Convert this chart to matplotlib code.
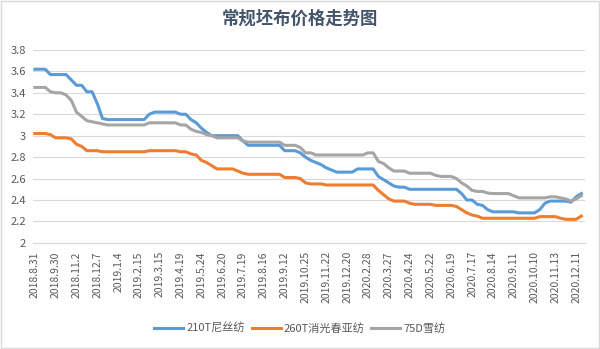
import matplotlib
matplotlib.use("Agg")
import matplotlib.pyplot as plt
from matplotlib.patches import Rectangle

plt.rcParams['font.family'] = ['Noto Sans CJK SC', 'DejaVu Sans']

# weekly price series (yuan/m), 106 weeks from 2018.8.31
nylon_210t = [3.62, 3.62, 3.62, 3.57, 3.57, 3.57, 3.57, 3.52, 3.47, 3.47,
              3.41, 3.41, 3.30, 3.16, 3.15, 3.15, 3.15, 3.15, 3.15, 3.15,
              3.15, 3.15, 3.20, 3.22, 3.22, 3.22, 3.22, 3.22, 3.20, 3.20,
              3.15, 3.12, 3.07, 3.03, 3.00, 3.00, 3.00, 3.00, 3.00, 3.00,
              2.95, 2.91, 2.91, 2.91, 2.91, 2.91, 2.91, 2.91, 2.86, 2.86,
              2.86, 2.84, 2.80, 2.77, 2.75, 2.73, 2.70, 2.68, 2.66, 2.66,
              2.66, 2.66, 2.69, 2.69, 2.69, 2.69, 2.62, 2.59, 2.56, 2.53,
              2.52, 2.52, 2.50, 2.50, 2.50, 2.50, 2.50, 2.50, 2.50, 2.50,
              2.50, 2.50, 2.46, 2.40, 2.40, 2.36, 2.35, 2.31, 2.29, 2.29,
              2.29, 2.29, 2.29, 2.28, 2.28, 2.28, 2.28, 2.31, 2.37, 2.39,
              2.39, 2.39, 2.39, 2.38, 2.43, 2.46]
pongee_260t = [3.02, 3.02, 3.02, 3.01, 2.98, 2.98, 2.98, 2.97, 2.92, 2.90,
               2.86, 2.86, 2.86, 2.85, 2.85, 2.85, 2.85, 2.85, 2.85, 2.85,
               2.85, 2.85, 2.86, 2.86, 2.86, 2.86, 2.86, 2.86, 2.85, 2.85,
               2.83, 2.82, 2.77, 2.75, 2.72, 2.69, 2.69, 2.69, 2.69, 2.67,
               2.65, 2.64, 2.64, 2.64, 2.64, 2.64, 2.64, 2.64, 2.61, 2.61,
               2.61, 2.60, 2.56, 2.55, 2.55, 2.55, 2.54, 2.54, 2.54, 2.54,
               2.54, 2.54, 2.54, 2.54, 2.54, 2.54, 2.49, 2.45, 2.41, 2.39,
               2.39, 2.39, 2.37, 2.36, 2.36, 2.36, 2.36, 2.35, 2.35, 2.35,
               2.35, 2.34, 2.31, 2.28, 2.26, 2.25, 2.23, 2.23, 2.23, 2.23,
               2.23, 2.23, 2.23, 2.23, 2.23, 2.23, 2.23, 2.245, 2.245, 2.245,
               2.245, 2.23, 2.22, 2.22, 2.22, 2.25]
chiffon_75d = [3.45, 3.45, 3.45, 3.41, 3.40, 3.40, 3.38, 3.33, 3.22, 3.18,
               3.14, 3.13, 3.12, 3.11, 3.10, 3.10, 3.10, 3.10, 3.10, 3.10,
               3.10, 3.10, 3.12, 3.12, 3.12, 3.12, 3.12, 3.12, 3.10, 3.10,
               3.06, 3.04, 3.03, 3.01, 3.00, 2.98, 2.98, 2.98, 2.98, 2.98,
               2.95, 2.94, 2.94, 2.94, 2.94, 2.94, 2.94, 2.94, 2.91, 2.91,
               2.91, 2.89, 2.84, 2.84, 2.82, 2.82, 2.82, 2.82, 2.82, 2.82,
               2.82, 2.82, 2.82, 2.82, 2.84, 2.84, 2.76, 2.74, 2.70, 2.67,
               2.67, 2.67, 2.65, 2.65, 2.65, 2.65, 2.65, 2.63, 2.62, 2.62,
               2.62, 2.60, 2.56, 2.53, 2.49, 2.48, 2.48, 2.465, 2.46, 2.46,
               2.46, 2.46, 2.44, 2.42, 2.42, 2.42, 2.42, 2.42, 2.42, 2.43,
               2.43, 2.42, 2.41, 2.39, 2.41, 2.44]

tick_labels = ['2018.8.31', '2018.9.30', '2018.11.2', '2018.12.7', '2019.1.4',
               '2019.2.15', '2019.3.15', '2019.4.19', '2019.5.24', '2019.6.20',
               '2019.7.19', '2019.8.16', '2019.9.12', '2019.10.25', '2019.11.22',
               '2019.12.20', '2020.2.28', '2020.3.27', '2020.4.24', '2020.5.22',
               '2020.6.19', '2020.7.17', '2020.8.14', '2020.9.11', '2020.10.10',
               '2020.11.13', '2020.12.11']
series_names = ['210T尼丝纺', '260T消光春亚纺', '75D雪纺']
colors = ['#5B9BD5', '#ED7D31', '#A5A5A5']

fig = plt.figure(figsize=(6, 3.49), dpi=100)
ax = fig.add_axes([0.055, 0.304, 0.92, 0.553])

x = list(range(len(nylon_210t)))
for vals, name, c in zip([nylon_210t, pongee_260t, chiffon_75d], series_names, colors):
    ax.plot(x, vals, color=c, lw=2.2, label=name, solid_joinstyle='round')

ax.set_ylim(2, 3.8)
ax.set_yticks([2 + 0.2 * k for k in range(10)])
ax.set_yticklabels(['2', '2.2', '2.4', '2.6', '2.8', '3', '3.2', '3.4', '3.6', '3.8'])
ax.set_xlim(-0.35, 105.7)
ax.set_xticks(list(range(0, 4 * len(tick_labels), 4)))
ax.set_xticklabels(tick_labels, rotation=90, va='top', ha='center')

ax.grid(axis='y', color='#D9D9D9', lw=0.8)
ax.set_axisbelow(True)
for s in ['top', 'right', 'left']:
    ax.spines[s].set_visible(False)
ax.spines['bottom'].set_color('#D9D9D9')
ax.tick_params(axis='both', length=0, colors='#595959')
ax.tick_params(axis='y', labelsize=8, pad=5)
ax.tick_params(axis='x', labelsize=7.5, pad=6)

fig.text(0.5, 0.947, '常规坯布价格走势图', ha='center', va='center',
         fontsize=12.5, fontweight='bold', color='#44546A')

fig.legend(loc='center', bbox_to_anchor=(0.5, 0.06), ncol=3, frameon=False,
           fontsize=8, handlelength=2.6, handletextpad=0.3, columnspacing=0.6,
           labelcolor='#595959')

fig.patches.append(Rectangle((0.001, 0.002), 0.997, 0.995, transform=fig.transFigure,
                             fill=False, edgecolor='#D9D9D9', lw=1))

fig.savefig('out.png', dpi=100)
